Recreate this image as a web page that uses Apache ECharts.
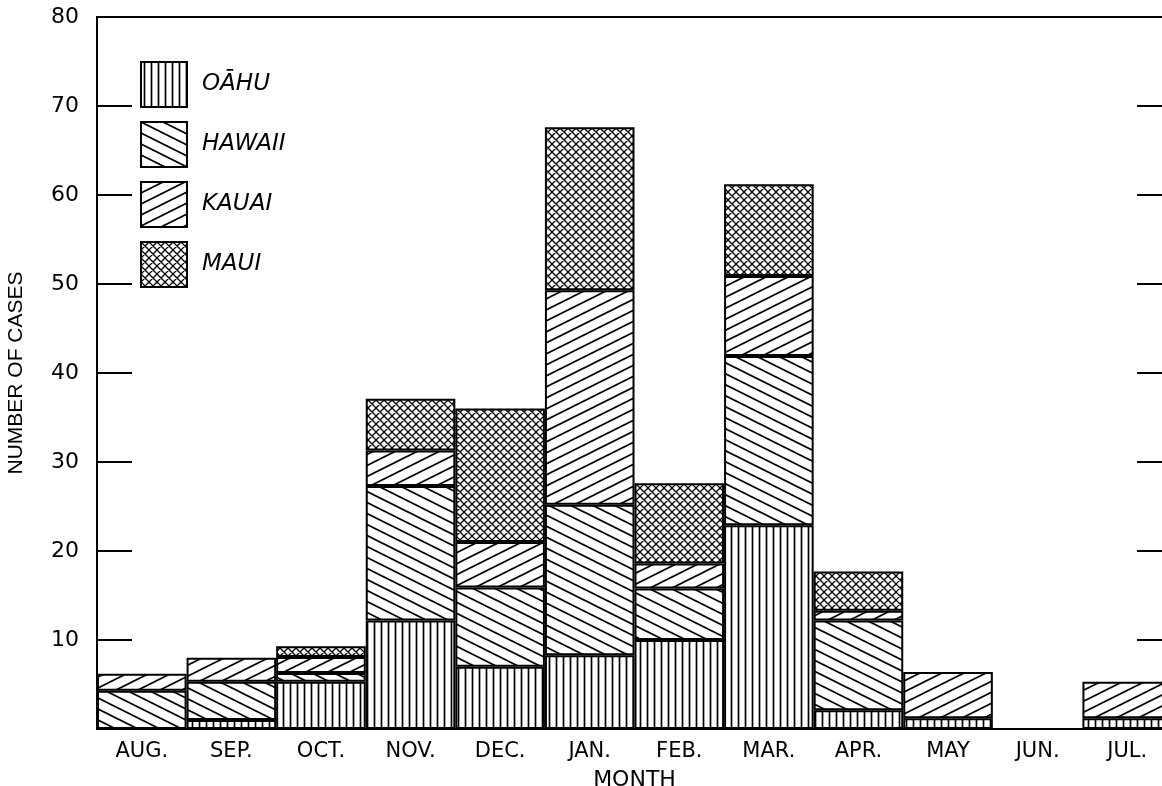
<!DOCTYPE html>
<html>
<head>
<meta charset="utf-8">
<script src="https://cdn.jsdelivr.net/npm/echarts@6/dist/echarts.min.js"></script>
<style>
html,body{margin:0;padding:0;background:#fff;overflow:hidden;}
#chart{width:1172px;height:786px;}
</style>
</head>
<body>
<div id="chart"></div>
<script>
const months = ['AUG.', 'SEP.', 'OCT.', 'NOV.', 'DEC.', 'JAN.', 'FEB.', 'MAR.', 'APR.', 'MAY', 'JUN.', 'JUL.'];
const seriesNames = ['OĀHU', 'HAWAII', 'KAUAI', 'MAUI'];
const oahu   = [null, 1.0, 5.3, 12.2, 7.0, 8.3, 10.0, 22.9, 2.1, 1.2, null, 1.2];
const hawaii = [4.3, 4.3, 1.0, 15.1, 8.9, 16.9, 5.8, 19.0, 10.1, null, null, null];
const kauai  = [1.9, 2.7, 1.8, 4.0, 5.1, 24.1, 2.8, 9.0, 1.1, 5.2, null, 4.1];
const maui   = [null, null, 1.2, 5.8, 15.0, 18.3, 9.0, 10.3, 4.4, null, null, null];
const yTicks = [0, 10, 20, 30, 40, 50, 60, 70, 80];

function makePattern(type) {
  const c = document.createElement('canvas');
  let w, h;
  if (type === 'vertical') { w = 7; h = 7; }
  else if (type === 'cross') { w = 8; h = 8; }
  else { w = 22; h = 11; }
  c.width = w; c.height = h;
  const ctx = c.getContext('2d');
  ctx.fillStyle = '#fff';
  ctx.fillRect(0, 0, w, h);
  ctx.strokeStyle = '#000';
  ctx.lineWidth = type === 'cross' ? 1.3 : 1.7;
  ctx.beginPath();
  if (type === 'vertical') {
    ctx.moveTo(3.5, -1); ctx.lineTo(3.5, h + 1);
  } else if (type === 'back') {
    for (let k = -3; k <= 3; k++) {
      ctx.moveTo(-w, -w / 2 + k * h); ctx.lineTo(2 * w, w + k * h);
    }
  } else if (type === 'fwd') {
    for (let k = -3; k <= 4; k++) {
      ctx.moveTo(-w, w / 2 + k * h); ctx.lineTo(2 * w, -w + k * h);
    }
  } else if (type === 'cross') {
    for (let k = -2; k <= 2; k++) {
      ctx.moveTo(-w, -w + k * w); ctx.lineTo(2 * w, 2 * w + k * w);
      ctx.moveTo(-w, 2 * w + k * w); ctx.lineTo(2 * w, -w + k * w);
    }
  }
  ctx.stroke();
  return { image: c, repeat: 'repeat' };
}

const patterns = [makePattern('vertical'), makePattern('back'), makePattern('fwd'), makePattern('cross')];
const dataSets = [oahu, hawaii, kauai, maui];

const font = 'DejaVu Sans';
const chart = echarts.init(document.getElementById('chart'), null, { renderer: 'canvas' });

const series = seriesNames.map((name, i) => ({
  name: name,
  type: 'bar',
  stack: 'total',
  data: dataSets[i],
  barWidth: '100%',
  barCategoryGap: 0,
  itemStyle: { color: patterns[i], borderColor: '#000', borderWidth: 2 },
  emphasis: { disabled: true },
  animation: false
}));

chart.setOption({
  animation: false,
  backgroundColor: '#fff',
  grid: { left: 97, right: 0, top: 17, bottom: 57, outerBoundsMode: 'none', containLabel: false, show: true, borderColor: '#000', borderWidth: 2, backgroundColor: 'transparent' },
  legend: {
    orient: 'vertical', left: 140, top: 61, padding: 0,
    itemWidth: 46, itemHeight: 45, itemGap: 13,
    icon: 'rect',
    itemStyle: { borderColor: '#000', borderWidth: 2 },
    textStyle: { fontFamily: font, fontStyle: 'italic', fontSize: 23, color: '#000', padding: [3, 0, 0, 10] },
    data: seriesNames
  },
  xAxis: {
    type: 'category',
    data: months,
    name: 'MONTH',
    nameLocation: 'middle',
    nameGap: 40,
    nameTextStyle: { fontFamily: font, fontSize: 22, color: '#000' },
    axisLine: { lineStyle: { color: '#000', width: 2 } },
    axisTick: { show: false },
    axisLabel: { fontFamily: font, fontSize: 21, color: '#000', margin: 12 }
  },
  yAxis: [{
    type: 'value',
    min: 0, max: 80, interval: 10,
    name: 'NUMBER OF CASES',
    nameLocation: 'middle',
    nameGap: 70,
    nameTextStyle: { fontFamily: 'Liberation Sans', fontSize: 21, color: '#000' },
    axisLine: { show: true, lineStyle: { color: '#000', width: 2 } },
    axisTick: { show: true, inside: true, length: 35, lineStyle: { color: '#000', width: 2 } },
    axisLabel: { fontFamily: font, fontSize: 22, color: '#000', margin: 18, formatter: v => (v === 0 ? '' : String(v)) },
    splitLine: { show: false }
  }, {
    type: 'value',
    position: 'right',
    min: 0, max: 80, interval: 10,
    axisLine: { show: true, lineStyle: { color: '#000', width: 2 } },
    axisTick: { show: true, inside: true, length: 35, lineStyle: { color: '#000', width: 2 } },
    axisLabel: { show: false },
    splitLine: { show: false }
  }],
  series: series
});
</script>
</body>
</html>
